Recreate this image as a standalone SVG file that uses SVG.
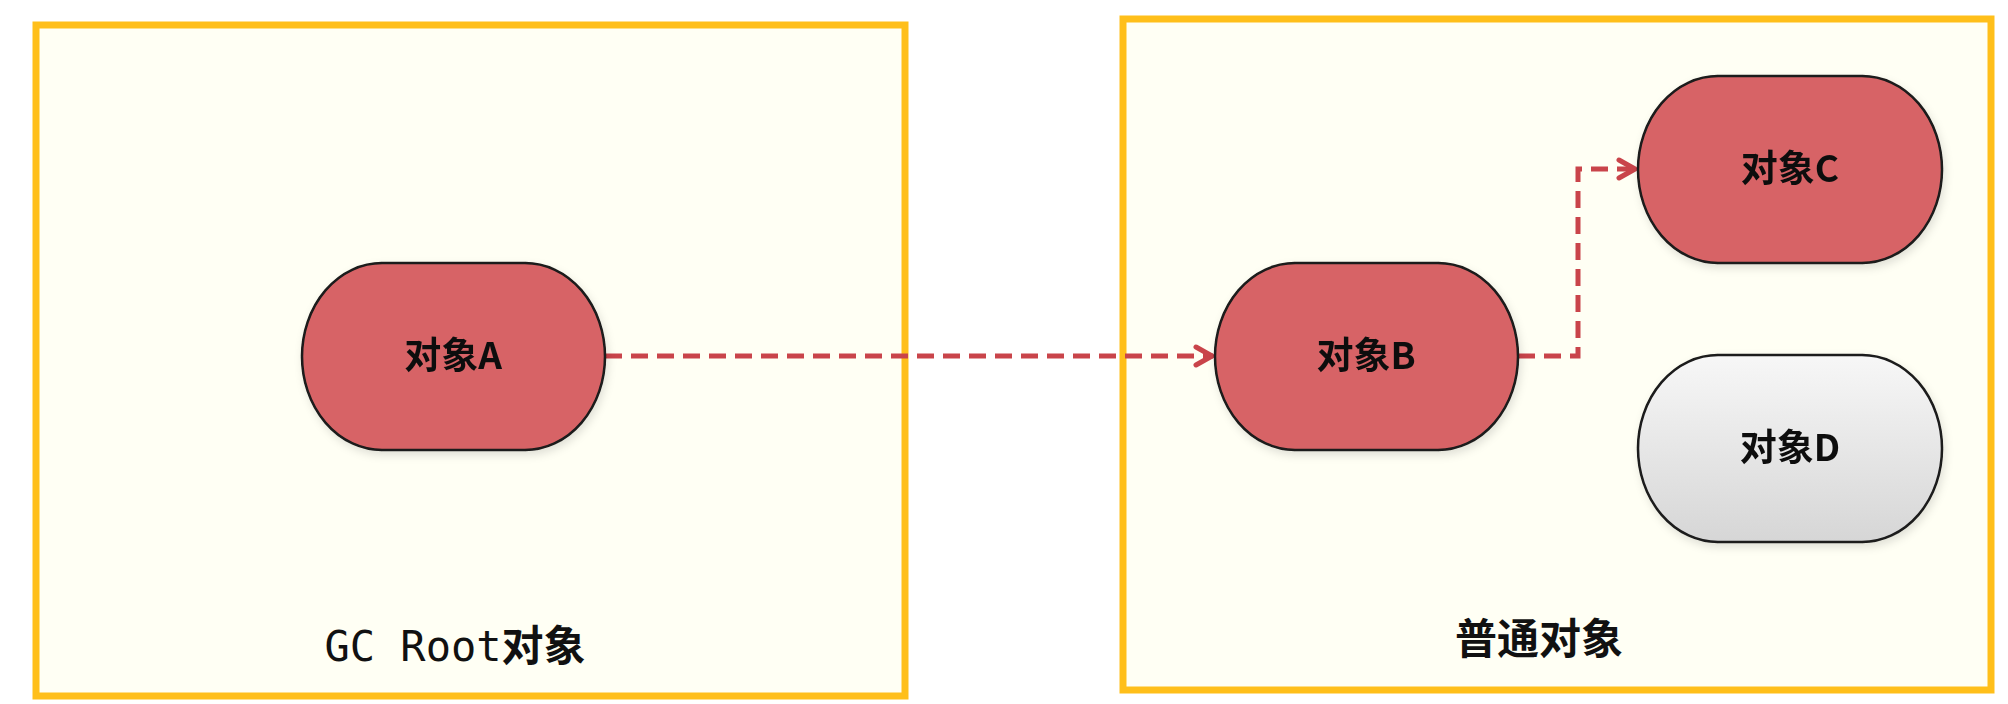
<svg xmlns="http://www.w3.org/2000/svg" width="2008" height="704" viewBox="0 0 2008 704">
  <defs>
    <style>
      .box { fill: #fffff4; stroke: #ffbf1a; stroke-width: 7; }
      .pill { stroke: #1a1a1a; stroke-width: 2.5; }
      .red { fill: #d76466; }
      .gray { fill: url(#grayGrad); }
      .lbl { font-family: "Noto Sans CJK SC", "Noto Sans", sans-serif; font-weight: bold; font-size: 37px; fill: #111; text-anchor: middle; }
      .title { font-family: "Noto Sans CJK SC", sans-serif; font-weight: bold; font-size: 42px; fill: #111; }
      .mono { font-family: "DejaVu Sans Mono", "Liberation Mono", monospace; font-weight: normal; }
      .conn { fill: none; stroke: #c9444a; stroke-width: 5; stroke-dasharray: 17 9; }
    </style>
    <linearGradient id="grayGrad" x1="0" y1="0" x2="0" y2="1">
      <stop offset="0" stop-color="#f7f7f7"/>
      <stop offset="1" stop-color="#d6d6d6"/>
    </linearGradient>
    <filter id="shadow" x="-10%" y="-10%" width="130%" height="130%">
      <feDropShadow dx="2" dy="4" stdDeviation="4" flood-color="#000" flood-opacity="0.12"/>
    </filter>
    <marker id="arrow" viewBox="0 0 24 24" refX="21" refY="12" markerWidth="24" markerHeight="24" markerUnits="userSpaceOnUse" orient="auto">
      <path d="M4,3 L20,12 L4,21" fill="none" stroke="#c9444a" stroke-width="5" stroke-linecap="round" stroke-linejoin="round"/>
    </marker>
  </defs>

  <rect width="2008" height="704" fill="#ffffff"/>

  <g id="gc-root-box">
    <rect class="box" x="36" y="25" width="869" height="671"/>
    <text class="title" x="455" y="661" text-anchor="middle"><tspan class="mono">GC Root</tspan>对象</text>
  </g>

  <g id="normal-box">
    <rect class="box" x="1123" y="19" width="868" height="671"/>
    <text class="title" x="1539" y="654" text-anchor="middle">普通对象</text>
  </g>

  <g id="connectors">
    <path class="conn" d="M605,356 L1213,356" marker-end="url(#arrow)"/>
    <path class="conn" d="M1518,356 L1578,356 L1578,169 L1636,169" marker-end="url(#arrow)"/>
  </g>

  <g id="node-a" filter="url(#shadow)">
    <rect class="pill red" x="302" y="263" width="303" height="187" rx="80" ry="93.5"/>
    <text class="lbl" x="453" y="369">对象A</text>
  </g>

  <g id="node-b" filter="url(#shadow)">
    <rect class="pill red" x="1215" y="263" width="303" height="187" rx="80" ry="93.5"/>
    <text class="lbl" x="1366" y="369">对象B</text>
  </g>

  <g id="node-c" filter="url(#shadow)">
    <rect class="pill red" x="1638" y="76" width="304" height="187" rx="80" ry="93.5"/>
    <text class="lbl" x="1790" y="182">对象C</text>
  </g>

  <g id="node-d" filter="url(#shadow)">
    <rect class="pill gray" x="1638" y="355" width="304" height="187" rx="80" ry="93.5"/>
    <text class="lbl" x="1790" y="461">对象D</text>
  </g>
</svg>
